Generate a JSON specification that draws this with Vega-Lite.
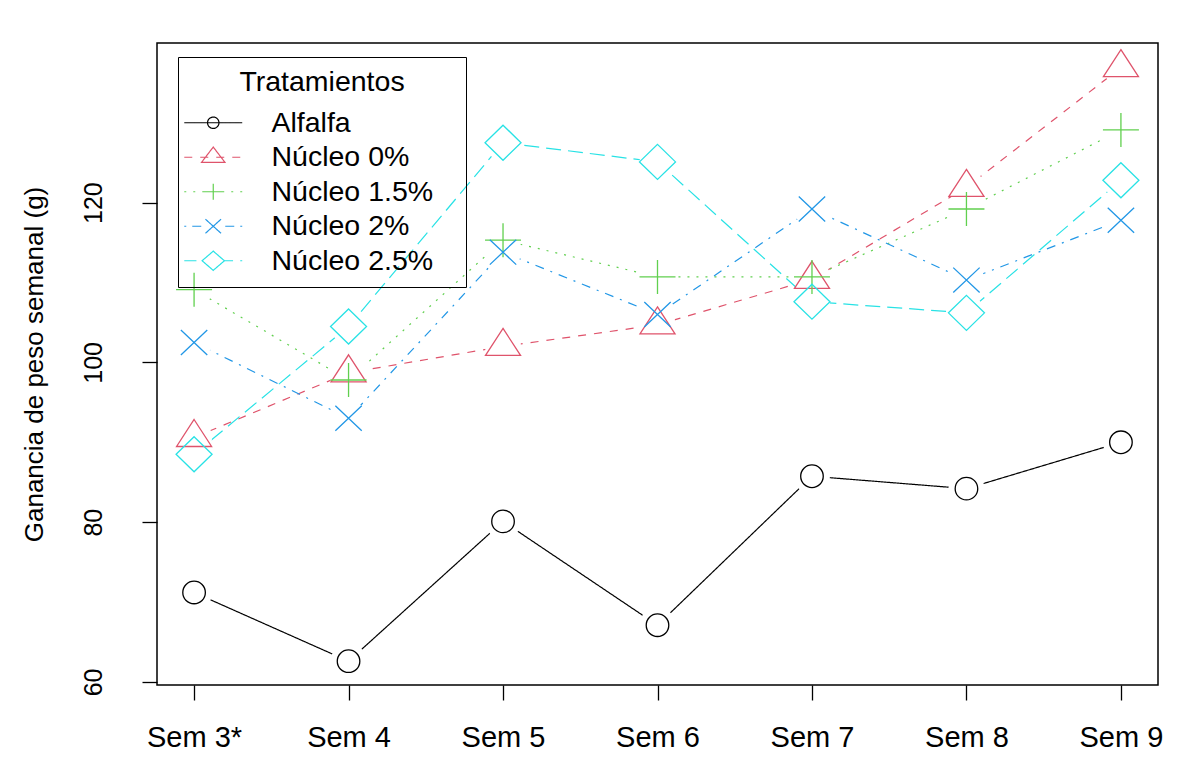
{
  "$schema": "https://vega.github.io/schema/vega-lite/v6.json",
  "width": 1001,
  "height": 642,
  "autosize": {"type": "none"},
  "padding": {"left": 157, "top": 43, "right": 20, "bottom": 82},
  "background": "white",
  "config": {
    "font": "Liberation Sans",
    "view": {"stroke": "#000", "strokeWidth": 1.5},
    "axis": {"domain": false, "grid": false, "ticks": true, "tickColor": "#000", "tickWidth": 1.3, "tickSize": 15, "labelColor": "#000", "titleColor": "#000", "titleFontWeight": "normal"}
  },
  "data": {"values": [
    {"semana": "Sem 3*", "tratamiento": "Alfalfa", "ganancia": 71.2},
    {"semana": "Sem 4", "tratamiento": "Alfalfa", "ganancia": 62.6},
    {"semana": "Sem 5", "tratamiento": "Alfalfa", "ganancia": 80.1},
    {"semana": "Sem 6", "tratamiento": "Alfalfa", "ganancia": 67.1},
    {"semana": "Sem 7", "tratamiento": "Alfalfa", "ganancia": 85.75},
    {"semana": "Sem 8", "tratamiento": "Alfalfa", "ganancia": 84.2},
    {"semana": "Sem 9", "tratamiento": "Alfalfa", "ganancia": 90.0},
    {"semana": "Sem 3*", "tratamiento": "Núcleo 0%", "ganancia": 90.6},
    {"semana": "Sem 4", "tratamiento": "Núcleo 0%", "ganancia": 98.7},
    {"semana": "Sem 5", "tratamiento": "Núcleo 0%", "ganancia": 102.0},
    {"semana": "Sem 6", "tratamiento": "Núcleo 0%", "ganancia": 104.7},
    {"semana": "Sem 7", "tratamiento": "Núcleo 0%", "ganancia": 110.4},
    {"semana": "Sem 8", "tratamiento": "Núcleo 0%", "ganancia": 121.9},
    {"semana": "Sem 9", "tratamiento": "Núcleo 0%", "ganancia": 136.9},
    {"semana": "Sem 3*", "tratamiento": "Núcleo 1.5%", "ganancia": 109.1},
    {"semana": "Sem 4", "tratamiento": "Núcleo 1.5%", "ganancia": 97.8},
    {"semana": "Sem 5", "tratamiento": "Núcleo 1.5%", "ganancia": 115.3},
    {"semana": "Sem 6", "tratamiento": "Núcleo 1.5%", "ganancia": 110.7},
    {"semana": "Sem 7", "tratamiento": "Núcleo 1.5%", "ganancia": 110.7},
    {"semana": "Sem 8", "tratamiento": "Núcleo 1.5%", "ganancia": 119.2},
    {"semana": "Sem 9", "tratamiento": "Núcleo 1.5%", "ganancia": 129.1},
    {"semana": "Sem 3*", "tratamiento": "Núcleo 2%", "ganancia": 102.5},
    {"semana": "Sem 4", "tratamiento": "Núcleo 2%", "ganancia": 93.0},
    {"semana": "Sem 5", "tratamiento": "Núcleo 2%", "ganancia": 113.8},
    {"semana": "Sem 6", "tratamiento": "Núcleo 2%", "ganancia": 106.0},
    {"semana": "Sem 7", "tratamiento": "Núcleo 2%", "ganancia": 119.2},
    {"semana": "Sem 8", "tratamiento": "Núcleo 2%", "ganancia": 110.3},
    {"semana": "Sem 9", "tratamiento": "Núcleo 2%", "ganancia": 117.8},
    {"semana": "Sem 3*", "tratamiento": "Núcleo 2.5%", "ganancia": 88.5},
    {"semana": "Sem 4", "tratamiento": "Núcleo 2.5%", "ganancia": 104.5},
    {"semana": "Sem 5", "tratamiento": "Núcleo 2.5%", "ganancia": 127.5},
    {"semana": "Sem 6", "tratamiento": "Núcleo 2.5%", "ganancia": 125.1},
    {"semana": "Sem 7", "tratamiento": "Núcleo 2.5%", "ganancia": 107.6},
    {"semana": "Sem 8", "tratamiento": "Núcleo 2.5%", "ganancia": 106.2},
    {"semana": "Sem 9", "tratamiento": "Núcleo 2.5%", "ganancia": 122.8}
  ]},
  "encoding": {
    "x": {
      "field": "semana", "type": "ordinal",
      "sort": ["Sem 3*", "Sem 4", "Sem 5", "Sem 6", "Sem 7", "Sem 8", "Sem 9"],
      "scale": {"type": "point", "padding": 0.24},
      "axis": {"title": null, "labelAngle": 0, "labelFontSize": 29, "labelBaseline": "alphabetic", "labelPadding": 46}
    },
    "y": {
      "field": "ganancia", "type": "quantitative",
      "scale": {"domain": [59.62, 139.98], "nice": false, "zero": false},
      "axis": {"title": "Ganancia de peso semanal (g)", "values": [60, 80, 100, 120], "labelAngle": -90, "labelAlign": "center", "labelBaseline": "alphabetic", "labelFontSize": 25, "labelPadding": 41, "titleFontSize": 26, "titleAngle": -90, "titleX": -115, "titleBaseline": "alphabetic"}
    },
    "color": {
      "field": "tratamiento", "type": "nominal",
      "scale": {"domain": ["Alfalfa", "Núcleo 0%", "Núcleo 1.5%", "Núcleo 2%", "Núcleo 2.5%"], "range": ["#000000", "#DF536B", "#61D04F", "#2297E6", "#28E2E5"]},
      "legend": {
        "title": "Tratamientos",
        "orient": "none", "legendX": 21, "legendY": 14,
        "strokeColor": "#000", "padding": 11, "cornerRadius": 0,
        "titleFontSize": 28.5, "titleFontWeight": "normal", "titleAnchor": "middle", "titleColor": "#000", "titlePadding": 12,
        "labelFontSize": 28.5, "labelColor": "#000", "labelLimit": 400, "labelOffset": 44, "symbolOffset": 10, "symbolSize": 144, "rowPadding": 5.5, "symbolStrokeWidth": 1.2,
        "encode": {
          "symbols": {"update": {
            "shape": {"signal": "datum.value === 'Alfalfa' ? 'M-4.83,0L4.83,0M0.95,0A0.95,0.95,0,1,1,-0.95,0A0.95,0.95,0,1,1,0.95,0M39.8,0' : datum.value === 'Núcleo 0%' ? 'M-4.83,0L-3.5,0M-2.17,0L-0.83,0M0.5,0L1.83,0M3.17,0L4.5,0M0,-1.7L1.95,0.85L-1.95,0.85ZM39.8,0' : datum.value === 'Núcleo 1.5%' ? 'M-4.83,0L-4.5,0M-3.33,0L-3,0M-1.83,0L-1.5,0M1.5,0L1.83,0M3,0L3.33,0M4.5,0L4.83,0M-1.7,0L1.7,0M0,-1.33L0,1.33M39.8,0' : datum.value === 'Núcleo 2%' ? 'M-4.83,0L-4.5,0M-3.5,0L-2,0M2,0L3.5,0M4.5,0L4.83,0M-1.3,-1.17L1.3,1.17M-1.3,1.17L1.3,-1.17M39.8,0' : 'M-4.83,0L-2.8,0M1.86,0L3.3,0M4.5,0L4.83,0M0,-1.6L1.86,0L0,1.6L-1.86,0ZM39.8,0'"},
            "fill": {"value": "transparent"},
            "strokeDash": {"value": [1, 0]},
            "strokeWidth": {"value": 1.2}
          }}
        }
      }
    }
  },
  "layer": [
    {
      "mark": {"type": "line", "strokeWidth": 1.2},
      "encoding": {
        "strokeDash": {
          "field": "tratamiento", "type": "nominal", "legend": null,
          "scale": {"range": [[1, 0], [8, 8], [2, 7], [2, 7, 9, 7], [15, 7]]}
        }
      }
    },
    {
      "mark": {"type": "point", "filled": true, "shape": "circle", "size": 1296, "strokeWidth": 0, "opacity": 1},
      "encoding": {"color": {"value": "white"}}
    },
    {
      "mark": {"type": "point", "filled": false, "size": 576, "strokeWidth": 1.3, "opacity": 1},
      "encoding": {
        "shape": {
          "field": "tratamiento", "type": "nominal", "legend": null,
          "scale": {"range": [
            "M0.94,0A0.94,0.94,0,1,1,-0.94,0A0.94,0.94,0,1,1,0.94,0Z",
            "M0,-1.5L1.46,0.75L-1.46,0.75Z",
            "M-1.5,0L1.5,0M0,-1.42L0,1.42",
            "M-1.1,-1.04L1.1,1.04M-1.1,1.04L1.1,-1.04",
            "M0,-1.46L1.5,0L0,1.46L-1.5,0Z"
          ]}
        }
      }
    }
  ]
}
